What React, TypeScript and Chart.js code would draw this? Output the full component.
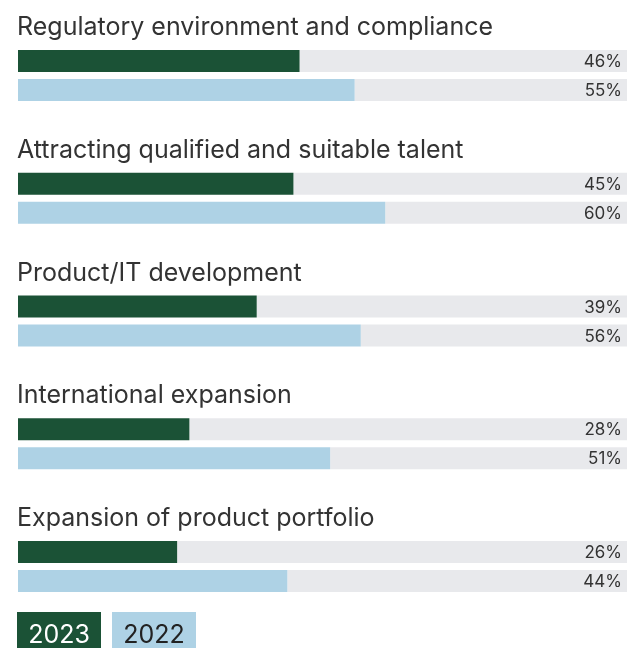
import React, { useEffect, useRef } from "react";
import { Chart, registerables } from "chart.js";

Chart.register(...registerables);

const categories = [
  "Regulatory environment and compliance",
  "Attracting qualified and suitable talent",
  "Product/IT development",
  "International expansion",
  "Expansion of product portfolio",
];
const values2023 = [46, 45, 39, 28, 26];
const values2022 = [55, 60, 56, 51, 44];
const seriesLabels = ["2023", "2022"];
const trackMax = 100;

const GREEN = "#1b5236";
const BLUE = "#aed2e5";
const GRAY = "#e8e9ec";
const TEXT = "#333333";
const FONT = "Inter, 'Noto Sans', sans-serif";

const overlayPlugin = {
  id: "overlay",
  afterDatasetsDraw(chart: any) {
    const ctx = chart.ctx;
    ctx.save();
    const metaA = chart.getDatasetMeta(0);
    const metaB = chart.getDatasetMeta(2);
    ctx.fillStyle = TEXT;
    ctx.font = `400 25px ${FONT}`;
    ctx.textAlign = "left";
    ctx.textBaseline = "alphabetic";
    categories.forEach((c, i) => {
      const bar = metaA.data[i];
      const top = bar.y - bar.height / 2;
      ctx.fillText(c, 17, top - 15);
    });
    ctx.font = `400 17px ${FONT}`;
    ctx.textAlign = "right";
    ctx.textBaseline = "middle";
    [
      [metaA, values2023],
      [metaB, values2022],
    ].forEach(([meta, vals]: any) => {
      vals.forEach((v: number, i: number) => {
        const bar = meta.data[i];
        ctx.fillText(`${v}%`, 622, bar.y + 1);
      });
    });
    const legend = [
      { label: seriesLabels[0], bg: GREEN, fg: "#ffffff", x: 17 },
      { label: seriesLabels[1], bg: BLUE, fg: "#222222", x: 112 },
    ];
    ctx.font = `400 25px ${FONT}`;
    ctx.textAlign = "center";
    ctx.textBaseline = "alphabetic";
    legend.forEach((l) => {
      ctx.fillStyle = l.bg;
      ctx.fillRect(l.x, 612, 84, 40);
      ctx.fillStyle = l.fg;
      ctx.fillText(l.label, l.x + 42, 643);
    });
    ctx.restore();
  },
};

export default function App() {
  const ref = useRef<HTMLCanvasElement>(null);
  useEffect(() => {
    document.body.style.margin = "0";
    const chart = new Chart(ref.current!, {
      type: "bar",
      data: {
        labels: categories,
        datasets: [
          { label: seriesLabels[0], data: values2023, backgroundColor: GREEN, stack: "a" },
          { label: "track-a", data: values2023.map((v) => trackMax - v), backgroundColor: GRAY, stack: "a" },
          { label: seriesLabels[1], data: values2022, backgroundColor: BLUE, stack: "b" },
          { label: "track-b", data: values2022.map((v) => trackMax - v), backgroundColor: GRAY, stack: "b" },
        ],
      },
      options: {
        indexAxis: "y",
        responsive: false,
        animation: false,
        categoryPercentage: 58 / 122.8,
        barPercentage: 22 / 29,
        layout: { padding: { left: 18, right: 0, top: 14, bottom: 20 } },
        scales: {
          x: { stacked: true, display: false, min: 0, max: 99.5 },
          y: { stacked: true, display: false },
        },
        plugins: { legend: { display: false }, tooltip: { enabled: false } },
      },
      plugins: [overlayPlugin],
    });
    return () => chart.destroy();
  }, []);
  return (
    <div style={{ position: "absolute", left: 0, top: 0, width: 627, height: 648, background: "#fff" }}>
      <canvas ref={ref} width={627} height={648} />
    </div>
  );
}
